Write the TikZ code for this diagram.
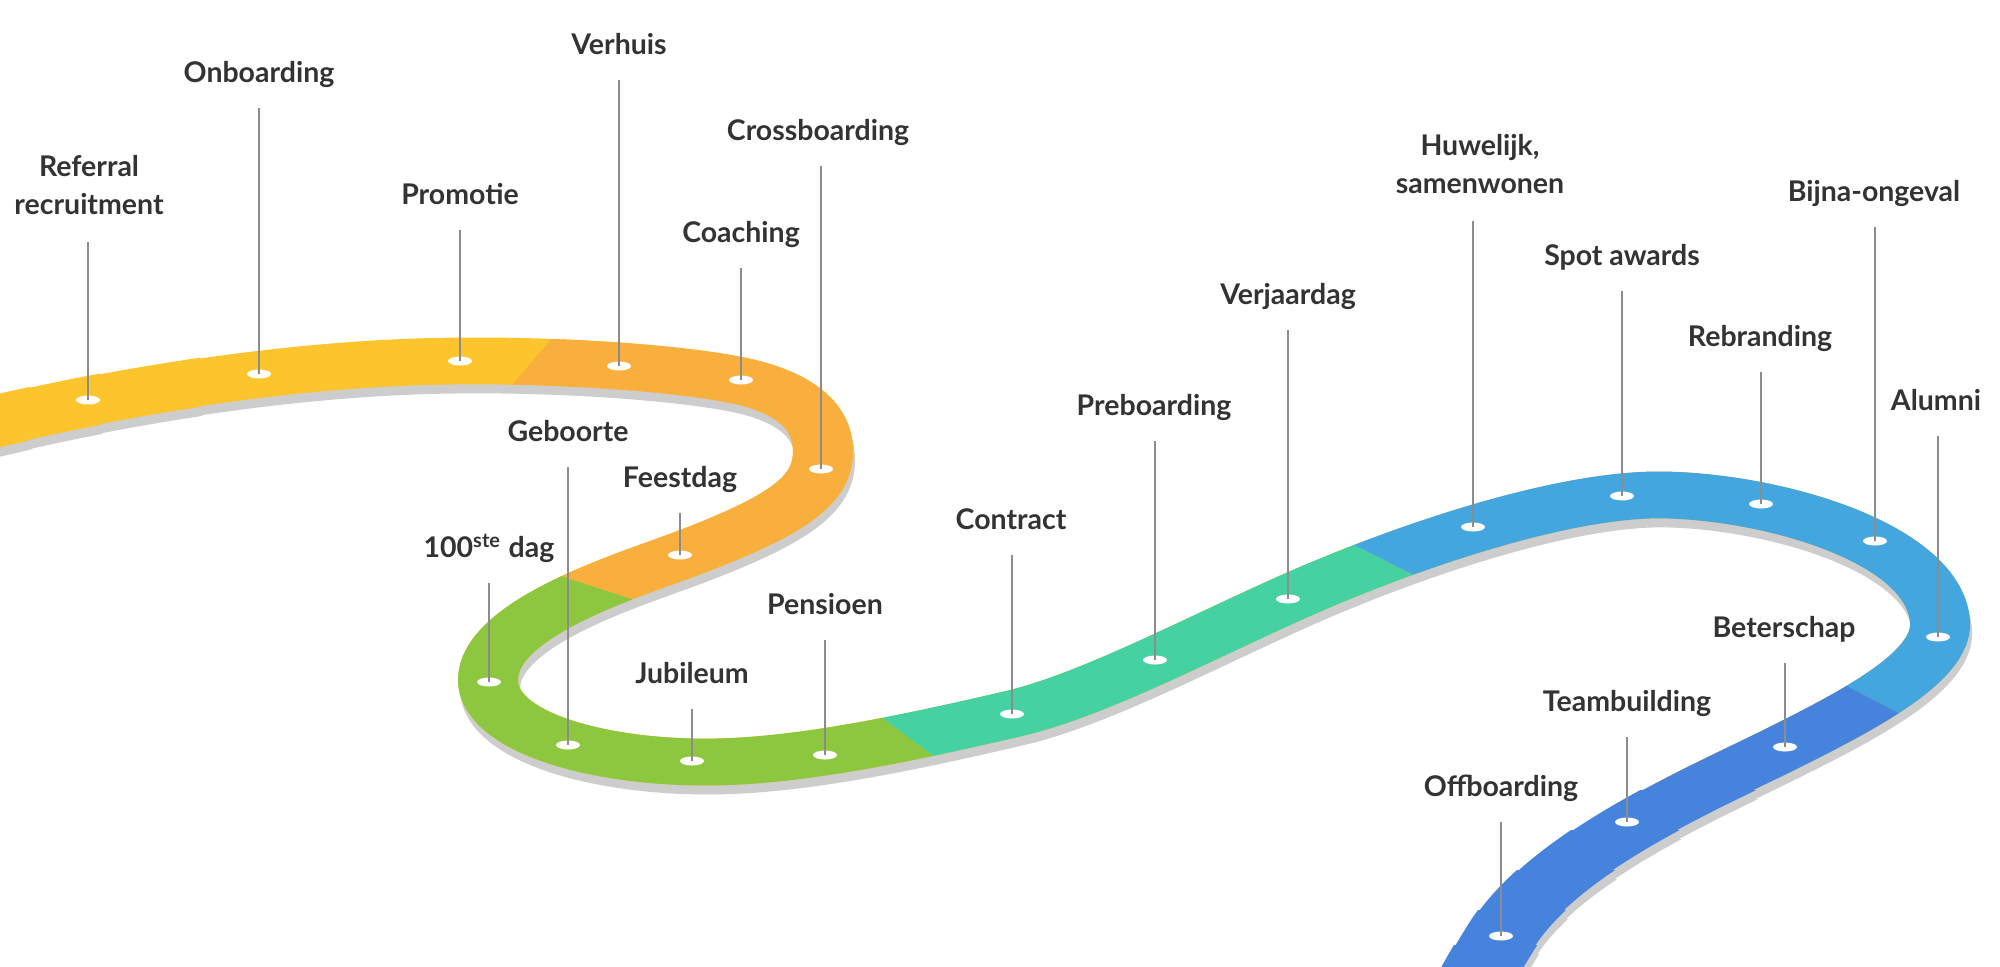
\documentclass[tikz,border=0pt]{standalone}
\usepackage{fontspec}
\setmainfont{Lato}
\usetikzlibrary{shapes.geometric}
\definecolor{cyellow}{HTML}{FDC52D}
\definecolor{corange}{HTML}{F9AF3D}
\definecolor{cgreen}{HTML}{8DC63F}
\definecolor{cteal}{HTML}{45D1A2}
\definecolor{clblue}{HTML}{44A6DF}
\definecolor{cdblue}{HTML}{4583DC}
\definecolor{cshadow}{HTML}{CDCDCD}
\definecolor{txtcol}{HTML}{333333}
\definecolor{pincol}{HTML}{8C8C8C}
\tikzset{
  road/.style={line width=0.6cm, line cap=butt, line join=round},
  flat/.style={transform canvas={yscale=0.78}, yscale=1/0.78},
  dot/.style={ellipse, fill=white, minimum width=0.24cm, minimum height=0.09cm, inner sep=0pt},
  pin/.style={draw=pincol, line width=0.55pt},
  lab/.style={font=\fontsize{8.1}{10.8}\selectfont\bfseries, text=txtcol, inner sep=0pt, anchor=base, align=center},
}
\def\roadpath{(-40,430) .. controls (120,390) and (300,362) .. (460,361) .. controls (560,360) and (680,368) .. (741,381) .. controls (800,394) and (823,420) .. (823,451) .. controls (823,490) and (790,515) .. (680,556) .. controls (620,578) and (488,620) .. (488,680) .. controls (488,730) and (590,761) .. (700,762) .. controls (790,763) and (900,740) .. (1012,714) .. controls (1090,696) and (1190,643) .. (1288,599) .. controls (1390,553) and (1560,492) .. (1667,495) .. controls (1780,498) and (1935,545) .. (1940,622) .. controls (1943,665) and (1865,707) .. (1785,747) .. controls (1705,787) and (1555,850) .. (1501,936) .. controls (1480,970) and (1462,1000) .. (1448,1040)}
\def\headpath{(-40,430) .. controls (120,390) and (300,362) .. (460,361)}
\def\tailpath{(1785,747) .. controls (1705,787) and (1555,850) .. (1501,936) .. controls (1480,970) and (1462,1000) .. (1448,1040)}
\newcommand\widerends[1]{%
  \foreach \yy/\ww in {790/0.63, 830/0.66, 870/0.69, 910/0.72, 945/0.75} {%
    \begin{scope}
      \clip (1300,\yy) rectangle (2010,1010);
      \begin{scope}[flat]
        \draw[road, line width=\ww cm, #1] \tailpath;
      \end{scope}
    \end{scope}
  }%
}
\newcommand\widerhead[1]{%
  \foreach \xx/\ww in {200/0.62, 100/0.64, 30/0.66} {%
    \begin{scope}
      \clip (-50,200) rectangle (\xx,600);
      \begin{scope}[flat]
        \draw[road, line width=\ww cm, #1] \headpath;
      \end{scope}
    \end{scope}
  }%
}
\begin{document}
\begin{tikzpicture}[x=0.01cm, y=-0.01cm]
\useasboundingbox (0,0) rectangle (2000,966);
\begin{scope}
  \clip (0,0) rectangle (2000,966);
  % shadow
  \begin{scope}[transform canvas={xshift=0.02cm, yshift=-0.09cm}]
    \begin{scope}[flat]
      \draw[road, cshadow] \roadpath;
    \end{scope}
    \widerends{cshadow}
    \widerhead{cshadow}
  \end{scope}
  % base yellow
  \begin{scope}[flat]
    \draw[road, cyellow] \roadpath;
  \end{scope}
  \widerhead{cyellow}
  % orange
  \begin{scope}
    \clip (580,306) -- (600,240) -- (930,240) -- (930,645) -- (665,610) -- (530,566) -- (492,408) -- cycle;
    \begin{scope}[flat]
      \draw[road, corange] \roadpath;
    \end{scope}
  \end{scope}
  % green
  \begin{scope}
    \clip (530,566) -- (665,610) -- (838,685) -- (978,789) -- (978,840) -- (400,840) -- (400,560) -- cycle;
    \begin{scope}[flat]
      \draw[road, cgreen] \roadpath;
    \end{scope}
  \end{scope}
  % teal
  \begin{scope}
    \clip (838,685) -- (1307,521) -- (1467,602) -- (978,789) -- cycle;
    \begin{scope}[flat]
      \draw[road, cteal] \roadpath;
    \end{scope}
  \end{scope}
  % light blue
  \begin{scope}
    \clip (1307,521) -- (1307,380) -- (2010,380) -- (2010,771) -- (1770,646) -- (1467,602) -- cycle;
    \begin{scope}[flat]
      \draw[road, clblue] \roadpath;
    \end{scope}
  \end{scope}
  % dark blue
  \begin{scope}
    \clip (1770,646) -- (2010,771) -- (2010,1010) -- (1300,1010) -- (1300,800) -- cycle;
    \begin{scope}[flat]
      \draw[road, cdblue] \roadpath;
    \end{scope}
    \widerends{cdblue}
  \end{scope}
\end{scope}

% dots
\node[dot] (d1) at (88,400) {};
\node[dot] (d2) at (259,374) {};
\node[dot] (d3) at (460,361) {};
\node[dot] (d4) at (619,366) {};
\node[dot] (d5) at (741,380) {};
\node[dot] (d6) at (821,469) {};
\node[dot] (d7) at (680,555) {};
\node[dot] (d8) at (568,745) {};
\node[dot] (d9) at (489,682) {};
\node[dot] (d10) at (692,761) {};
\node[dot] (d11) at (825,755) {};
\node[dot] (d12) at (1012,714) {};
\node[dot] (d13) at (1155,660) {};
\node[dot] (d14) at (1288,599) {};
\node[dot] (d15) at (1473,527) {};
\node[dot] (d16) at (1622,496) {};
\node[dot] (d17) at (1761,504) {};
\node[dot] (d18) at (1875,541) {};
\node[dot] (d19) at (1938,637) {};
\node[dot] (d20) at (1785,747) {};
\node[dot] (d21) at (1627,822) {};
\node[dot] (d22) at (1501,936) {};

% pin tops
\coordinate (p1) at (88,242);
\coordinate (p2) at (259,108);
\coordinate (p3) at (460,230);
\coordinate (p4) at (619,80);
\coordinate (p5) at (741,268);
\coordinate (p6) at (821,166);
\coordinate (p7) at (680,513);
\coordinate (p8) at (568,467);
\coordinate (p9) at (489,583);
\coordinate (p10) at (692,709);
\coordinate (p11) at (825,640);
\coordinate (p12) at (1012,555);
\coordinate (p13) at (1155,441);
\coordinate (p14) at (1288,330);
\coordinate (p15) at (1473,221);
\coordinate (p16) at (1622,291);
\coordinate (p17) at (1761,372);
\coordinate (p18) at (1875,227);
\coordinate (p19) at (1938,436);
\coordinate (p20) at (1785,663);
\coordinate (p21) at (1627,737);
\coordinate (p22) at (1501,822);

\foreach \i in {1,...,22} {\draw[pin] (d\i.center) -- (p\i);}

% labels
\node[lab] (l1) at (89,214) {Referral\\recruitment};
\node[lab] (l2) at (259,82) {Onboarding};
\node[lab] (l3) at (460,204) {Promotie};
\node[lab] (l4) at (619,54) {Verhuis};
\node[lab] (l5) at (741,242) {Coaching};
\node[lab] (l6) at (818,140) {Crossboarding};
\node[lab] (l7) at (680,487) {Feestdag};
\node[lab] (l8) at (568,441) {Geboorte};
\node[lab] (l9) at (489,557) {100\textsuperscript{ste} dag};
\node[lab] (l10) at (692,683) {Jubileum};
\node[lab] (l11) at (825,614) {Pensioen};
\node[lab] (l12) at (1011,529) {Contract};
\node[lab] (l13) at (1154,415) {Preboarding};
\node[lab] (l14) at (1288,304) {Verjaardag};
\node[lab] (l15) at (1480,193) {Huwelijk,\\samenwonen};
\node[lab] (l16) at (1622,265) {Spot awards};
\node[lab] (l17) at (1760,346) {Rebranding};
\node[lab] (l18) at (1874,201) {Bijna-ongeval};
\node[lab] (l19) at (1936,410) {Alumni};
\node[lab] (l20) at (1784,637) {Beterschap};
\node[lab] (l21) at (1627,711) {Teambuilding};
\node[lab] (l22) at (1501,796) {Offboarding};
\end{tikzpicture}
\end{document}
